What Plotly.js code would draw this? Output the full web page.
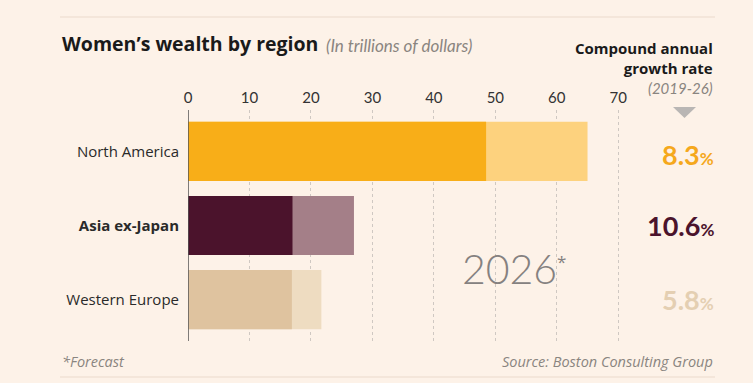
<!DOCTYPE html>
<html>
<head>
<meta charset="utf-8">
<script src="https://cdn.plot.ly/plotly-3.0.1.min.js"></script>
<style>html,body{margin:0;padding:0;background:#fdf2e8;}#chart{width:753px;height:383px;}</style>
</head>
<body>
<div id="chart"></div>
<script>
// ---- data ----
const regions = ["North America", "Asia ex-Japan", "Western Europe"];
const regionLabels = ["North America", "<b>Asia ex-Japan</b>", "Western Europe"];
const wealthBase = [48.5, 17.0, 16.9];
const wealth2026 = [65.0, 27.0, 21.7];
const cagr = ["8.3", "10.6", "5.8"];
const xTicks = [0, 10, 20, 30, 40, 50, 60, 70];

// ---- styles ----
const darkColors = ["#f8ae18", "#4b132c", "#dfc39f"];
const lightColors = ["#fdd27e", "#a47f88", "#eedcc1"];
const pctColors = ["#f5a81c", "#4b132c", "#e4cfb2"];
const LATO = "Lato, 'Open Sans', sans-serif";
const OPEN = "'Open Sans', Lato, sans-serif";

const W = 753, H = 383;
const L = 188, R = 649, T = 110, B = 341;
const px2x = p => (p - L) / (R - L);
const py2y = p => (B - p) / (B - T);

const traces = [
  {type: "bar", orientation: "h", y: regions, x: wealth2026,
   marker: {color: lightColors}, hoverinfo: "skip", width: 0.8},
  {type: "bar", orientation: "h", y: regions, x: wealthBase,
   marker: {color: darkColors}, hoverinfo: "skip", width: 0.8}
];

const annotations = [
  {xref: "paper", yref: "paper", x: px2x(60), y: py2y(44), xanchor: "left", yanchor: "middle",
   text: "<b>Women’s wealth by region</b>",
   font: {family: OPEN, size: 19.5, color: "#1a1a1a"}, showarrow: false},
  {xref: "paper", yref: "paper", x: px2x(324), y: py2y(45), xanchor: "left", yanchor: "middle",
   text: "<i>(In trillions of dollars)</i>",
   font: {family: LATO, size: 17, color: "#8a8580"}, showarrow: false},
  {xref: "paper", yref: "paper", x: px2x(715), y: py2y(58), xanchor: "right", yanchor: "middle", align: "right",
   text: "<b>Compound annual<br>growth rate</b>",
   font: {family: OPEN, size: 15, color: "#1a1a1a"}, showarrow: false},
  {xref: "paper", yref: "paper", x: px2x(715), y: py2y(88), xanchor: "right", yanchor: "middle",
   text: "<i>(2019-26)</i>", font: {family: LATO, size: 15, color: "#8a8580"}, showarrow: false},
  {xref: "paper", yref: "paper", x: px2x(460), y: py2y(268), xanchor: "left", yanchor: "middle",
   text: "2026", font: {family: LATO, size: 41, color: "#858180", weight: 300}, showarrow: false},
  {xref: "paper", yref: "paper", x: px2x(555), y: py2y(261), xanchor: "left", yanchor: "middle",
   text: "*", font: {family: OPEN, size: 17, color: "#858180"}, showarrow: false},
  {xref: "paper", yref: "paper", x: px2x(60), y: py2y(361), xanchor: "left", yanchor: "middle",
   text: "<i>*Forecast</i>", font: {family: OPEN, size: 14.5, color: "#8a8580"}, showarrow: false},
  {xref: "paper", yref: "paper", x: px2x(715), y: py2y(361), xanchor: "right", yanchor: "middle",
   text: "<i>Source: Boston Consulting Group</i>", font: {family: OPEN, size: 14.5, color: "#8a8580"}, showarrow: false}
];
regions.forEach((r, i) => {
  annotations.push({xref: "paper", yref: "y", x: px2x(716), y: r, xanchor: "right", yanchor: "middle",
    yshift: i === 0 ? -3 : 0,
    text: "<b>" + cagr[i] + "</b><span style='font-size:17px'><b>%</b></span>",
    font: {family: LATO, size: 27, color: pctColors[i]}, showarrow: false});
});

const shapes = [
  {type: "line", xref: "paper", yref: "paper", x0: px2x(60), x1: px2x(715), y0: py2y(17), y1: py2y(17),
   line: {color: "#f1e2d6", width: 1.5}},
  {type: "line", xref: "paper", yref: "paper", x0: px2x(60), x1: px2x(715), y0: py2y(377), y1: py2y(377),
   line: {color: "#f1e2d6", width: 1.5}},
  {type: "path", xref: "paper", yref: "paper",
   path: `M ${px2x(673)} ${py2y(107)} L ${px2x(696)} ${py2y(107)} L ${px2x(684.5)} ${py2y(118)} Z`,
   fillcolor: "#b9b6b4", line: {width: 0}},
  {type: "line", xref: "x", yref: "paper", x0: 0, x1: 0, y0: 0, y1: 1,
   line: {color: "#555", width: 1.5}}
];

const layout = {
  width: W, height: H,
  margin: {l: L, r: W - R, t: T, b: H - B, pad: 0},
  paper_bgcolor: "#fdf2e8", plot_bgcolor: "#fdf2e8",
  barmode: "overlay", showlegend: false,
  font: {family: LATO, color: "#333"},
  xaxis: {side: "top", range: [0, 75], tickvals: xTicks, ticktext: xTicks.map(String),
          showgrid: true, gridcolor: "#cfc8c2", griddash: "dot", gridwidth: 1,
          zeroline: false, showline: false, ticks: "", ticklabelstandoff: 3,
          tickfont: {family: LATO, size: 15, color: "#333"}, fixedrange: true},
  yaxis: {type: "category", autorange: false, range: [2.56, -0.56],
          tickvals: regions, ticktext: regionLabels,
          showgrid: false, zeroline: false, showline: false,
          ticks: "outside", ticklen: 5, tickcolor: "rgba(0,0,0,0)",
          tickfont: {family: OPEN, size: 15, color: "#2a2a2a"}, fixedrange: true},
  annotations: annotations,
  shapes: shapes
};

Plotly.newPlot("chart", traces, layout, {displayModeBar: false, staticPlot: true});
</script>
</body>
</html>
